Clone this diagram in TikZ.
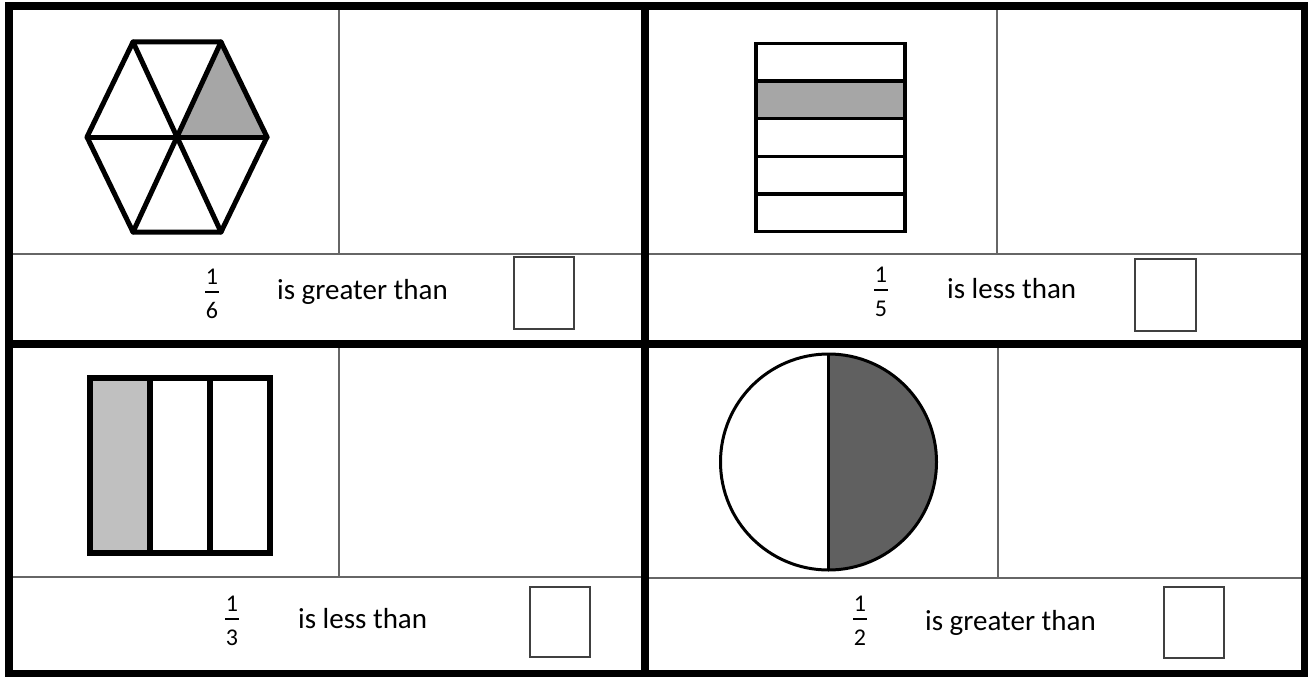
\documentclass[tikz,border=0pt]{standalone}
\usepackage{fontspec}
\setmainfont{Carlito}
\definecolor{midgray}{HTML}{A6A6A6}
\definecolor{lightgray2}{HTML}{C0C0C0}
\definecolor{darkgray2}{HTML}{606060}
\newcommand{\myfrac}[5]{%
  \node[digit] (#1n) at (#2,#3-15.5) {#4};
  \node[digit] (#1d) at (#2,#3+18.5) {#5};
  \draw[fracbar] (#2-7,#3) -- (#2+7,#3);
}
\begin{document}
\begin{tikzpicture}[x=1pt,y=-1pt,
  thickborder/.style={line width=7.5pt, line cap=rect},
  cellline/.style={draw=black!60, line width=1.3pt},
  shapeline/.style={line width=5pt, line join=round, line cap=round},
  ansbox/.style={draw=black!75, line width=1.4pt},
  labeltext/.style={font=\fontsize{29}{34}\selectfont, anchor=base west, inner sep=0pt},
  digit/.style={font=\fontsize{24}{28}\selectfont, inner sep=0pt},
  fracbar/.style={line width=2.2pt}]
\useasboundingbox (0,0) rectangle (1308,677);
\fill[white] (0,0) rectangle (1308,677);

% thin cell lines
\draw[cellline] (9,254) -- (645,254);
\draw[cellline] (339,6) -- (339,254);
\draw[cellline] (645,254) -- (1305,254);
\draw[cellline] (997,6) -- (997,254);
\draw[cellline] (9,577) -- (645,577);
\draw[cellline] (339,344) -- (339,577);
\draw[cellline] (645,578) -- (1305,578);
\draw[cellline] (998,344) -- (998,578);

% thick borders
\draw[thickborder] (9,6) rectangle (1304.5,673.5);
\draw[thickborder] (9,344) -- (1304.5,344);
\draw[thickborder] (645,6) -- (645,673.5);

% hexagon (top left)
\coordinate (hTL) at (133,42);
\coordinate (hTR) at (221,42);
\coordinate (hR) at (267,137);
\coordinate (hBR) at (221,232);
\coordinate (hBL) at (133,232);
\coordinate (hL) at (87,137);
\coordinate (hC) at (177,137);
\fill[midgray] (hC) -- (hTR) -- (hR) -- cycle;
\draw[shapeline] (hTL) -- (hTR) -- (hR) -- (hBR) -- (hBL) -- (hL) -- cycle;
\draw[shapeline] (hTL) -- (hBR);
\draw[shapeline] (hTR) -- (hBL);
\draw[shapeline] (hL) -- (hR);

% strips (top right)
\fill[midgray] (756,81) rectangle (905,118.7);
\draw[line width=3.5pt] (756,43.3) rectangle (905,231.7);
\foreach \yy in {81,118.7,156.4,194} \draw[line width=3.5pt] (756,\yy) -- (905,\yy);

% bars (bottom left)
\fill[lightgray2] (90,378) rectangle (150,553);
\draw[line width=6pt] (90,378) rectangle (270,553);
\draw[line width=6pt] (150,378) -- (150,553);
\draw[line width=6pt] (210,378) -- (210,553);

% circle (bottom right)
\fill[darkgray2] (828.5,354) arc[start angle=-90, end angle=90, radius=108] -- cycle;
\draw[line width=3pt] (828.5,462) circle[radius=108];
\draw[line width=3pt] (828.5,354) -- (828.5,570);

% answer boxes
\draw[ansbox] (514,257) rectangle (574,329);
\draw[ansbox] (1135,259) rectangle (1196,331);
\draw[ansbox] (530,587) rectangle (590,657);
\draw[ansbox] (1164,587) rectangle (1224,658);

% fractions
\myfrac{fa}{212}{292}{1}{6}
\myfrac{fb}{881}{290}{1}{5}
\myfrac{fc}{232}{619}{1}{3}
\myfrac{fd}{860}{619}{1}{2}

% labels
\node[labeltext] (ta) at (277,299) {is greater than};
\node[labeltext] (tb) at (947,298) {is less than};
\node[labeltext] (tc) at (298,628) {is less than};
\node[labeltext] (td) at (925,630) {is greater than};
\end{tikzpicture}
\end{document}
